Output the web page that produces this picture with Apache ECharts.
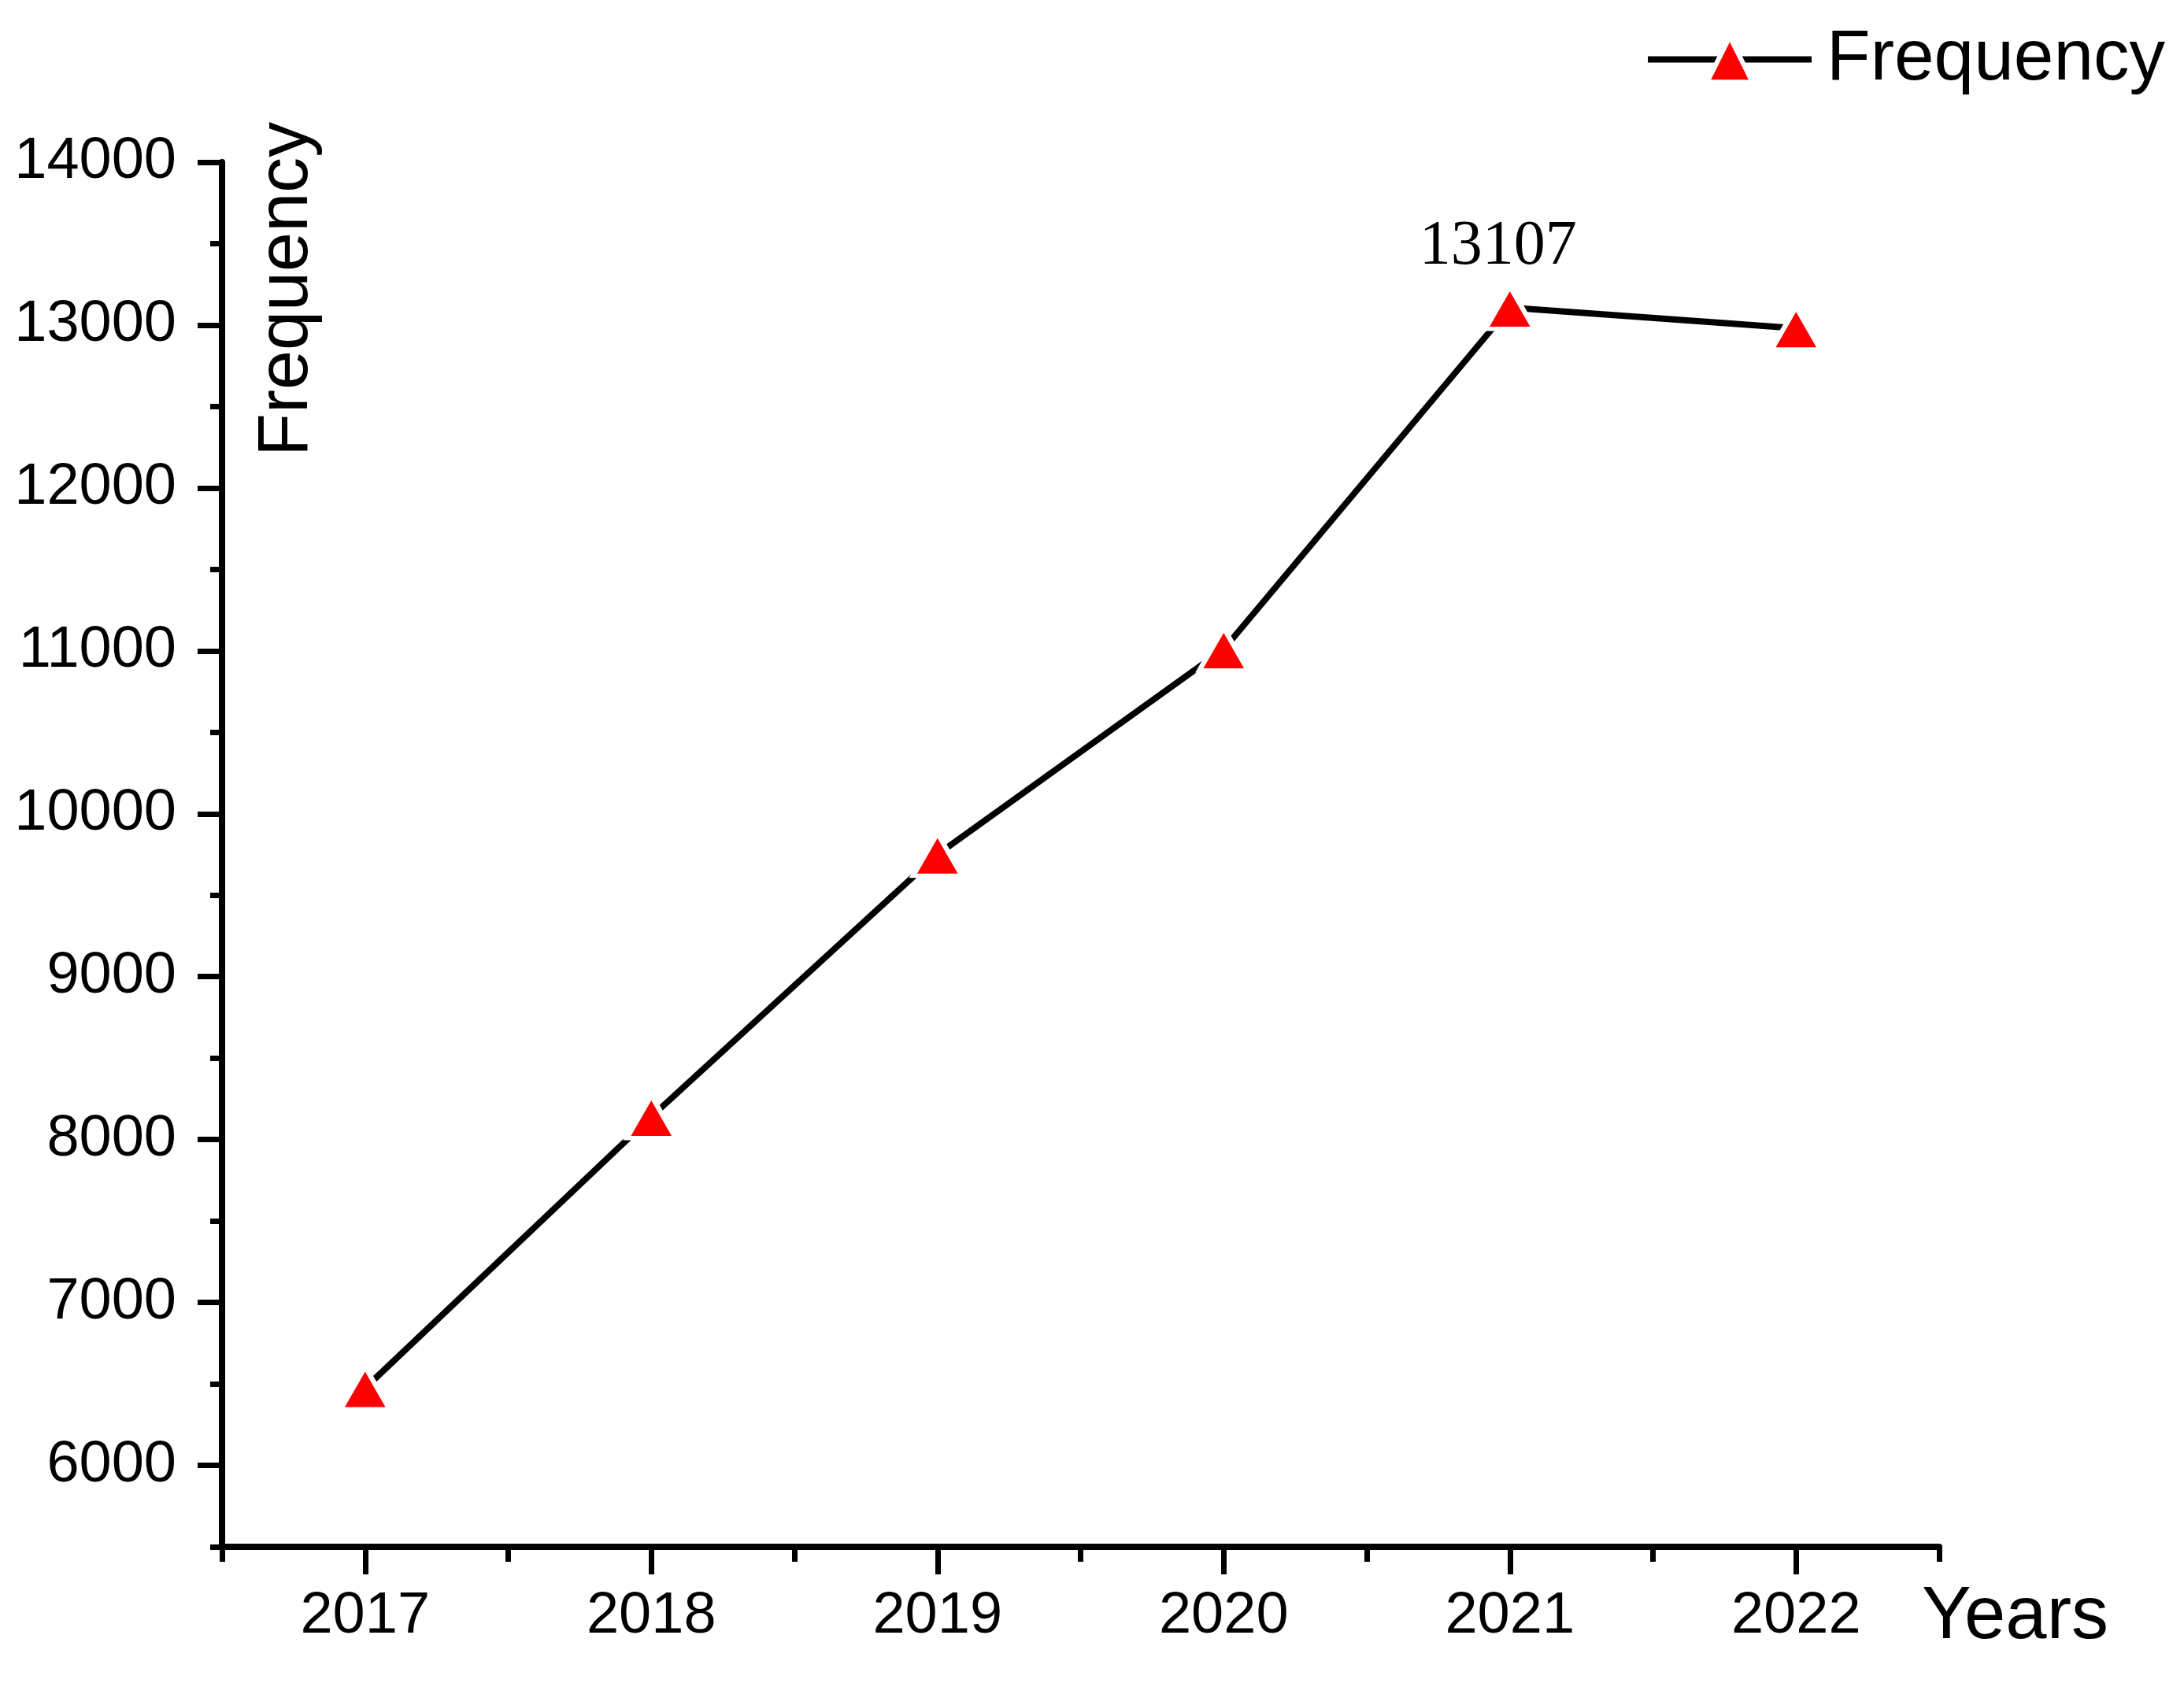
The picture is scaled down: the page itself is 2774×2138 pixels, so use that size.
<!DOCTYPE html>
<html>
<head>
<meta charset="utf-8">
<script src="https://cdn.jsdelivr.net/npm/echarts@6/dist/echarts.min.js"></script>
<style>
html,body{margin:0;padding:0;background:#fff;}
#chart{width:2774px;height:2138px;}
</style>
</head>
<body>
<div id="chart"></div>
<script>
// ---- data ----
const years = ['2017', '2018', '2019', '2020', '2021', '2022'];
const frequency = [6475, 8140, 9750, 11010, 13107, 12980];
const labelledYear = '2021';
const yMajorTicks = [6000, 7000, 8000, 9000, 10000, 11000, 12000, 13000, 14000];
const yMinorTicks = [5500, 6500, 7500, 8500, 9500, 10500, 11500, 12500, 13500];
const seriesName = 'Frequency';
const xName = 'Years';
const yName = 'Frequency';

const chart = echarts.init(document.getElementById('chart'), null, {renderer: 'canvas'});
const black = '#000';
const sans = 'Liberation Sans';

const seriesData = frequency.map((v, i) => {
  if (years[i] === labelledYear) {
    return {
      value: v,
      label: {
        show: true, position: 'top', distance: 7, offset: [-15, 0],
        fontFamily: 'Liberation Serif', fontSize: 80, color: black,
        formatter: '{c}'
      }
    };
  }
  return v;
});

const option = {
  animation: false,
  backgroundColor: '#fff',
  grid: {left: 282, right: 311, top: 206, bottom: 173, containLabel: false, outerBoundsMode: 'none'},
  legend: {
    data: [seriesName],
    right: 24, top: 30, padding: 0,
    itemWidth: 208, itemHeight: 72,
    textStyle: {fontFamily: sans, fontSize: 91, color: black, padding: [0, 0, 0, 14]},
    itemStyle: {borderColor: '#fff', borderWidth: 6},
    lineStyle: {color: black, width: 8}
  },
  xAxis: [
    {
      type: 'category', data: years, boundaryGap: true, position: 'bottom',
      axisLine: {show: true, onZero: false, lineStyle: {color: black, width: 8}},
      axisTick: {show: true, alignWithLabel: false, length: 19, lineStyle: {color: black, width: 7}},
      axisLabel: {show: false},
      splitLine: {show: false},
      name: xName, nameLocation: 'end', nameGap: -22, nameMoveOverlap: false,
      nameTextStyle: {fontFamily: sans, fontSize: 94, color: black, verticalAlign: 'top', lineHeight: 180}
    },
    {
      type: 'category', data: years, boundaryGap: true, position: 'bottom', offset: 0,
      axisLine: {show: false, onZero: false},
      axisTick: {show: true, alignWithLabel: true, length: 35, lineStyle: {color: black, width: 7}},
      axisLabel: {show: true, margin: 52, fontFamily: sans, fontSize: 74, color: black},
      splitLine: {show: false}
    }
  ],
  yAxis: [
    {
      type: 'value', min: 5500, max: 14000, position: 'left',
      axisLine: {show: true, onZero: false, lineStyle: {color: black, width: 8}},
      axisTick: {show: true, length: 31, customValues: yMajorTicks, lineStyle: {color: black, width: 7}},
      axisLabel: {show: true, customValues: yMajorTicks, margin: 58, fontFamily: sans, fontSize: 74, color: black,
                  formatter: (v) => String(v)},
      splitLine: {show: false},
      name: yName, nameLocation: 'end', nameRotate: 90, nameGap: -374, nameMoveOverlap: false,
      nameTextStyle: {fontFamily: sans, fontSize: 90, color: black, verticalAlign: 'top', lineHeight: 166}
    },
    {
      type: 'value', min: 5500, max: 14000, position: 'left', offset: 0,
      axisLine: {show: false, onZero: false},
      axisTick: {show: true, length: 15, customValues: yMinorTicks, lineStyle: {color: black, width: 7}},
      axisLabel: {show: false},
      splitLine: {show: false}
    }
  ],
  series: [
    {
      name: seriesName, type: 'line', xAxisIndex: 0, yAxisIndex: 0,
      data: seriesData,
      symbol: 'triangle', symbolSize: [62, 54],
      lineStyle: {color: black, width: 8},
      itemStyle: {color: '#ff0000', borderColor: '#fff', borderWidth: 6},
      emphasis: {disabled: true}
    }
  ]
};
chart.setOption(option);
</script>
</body>
</html>
